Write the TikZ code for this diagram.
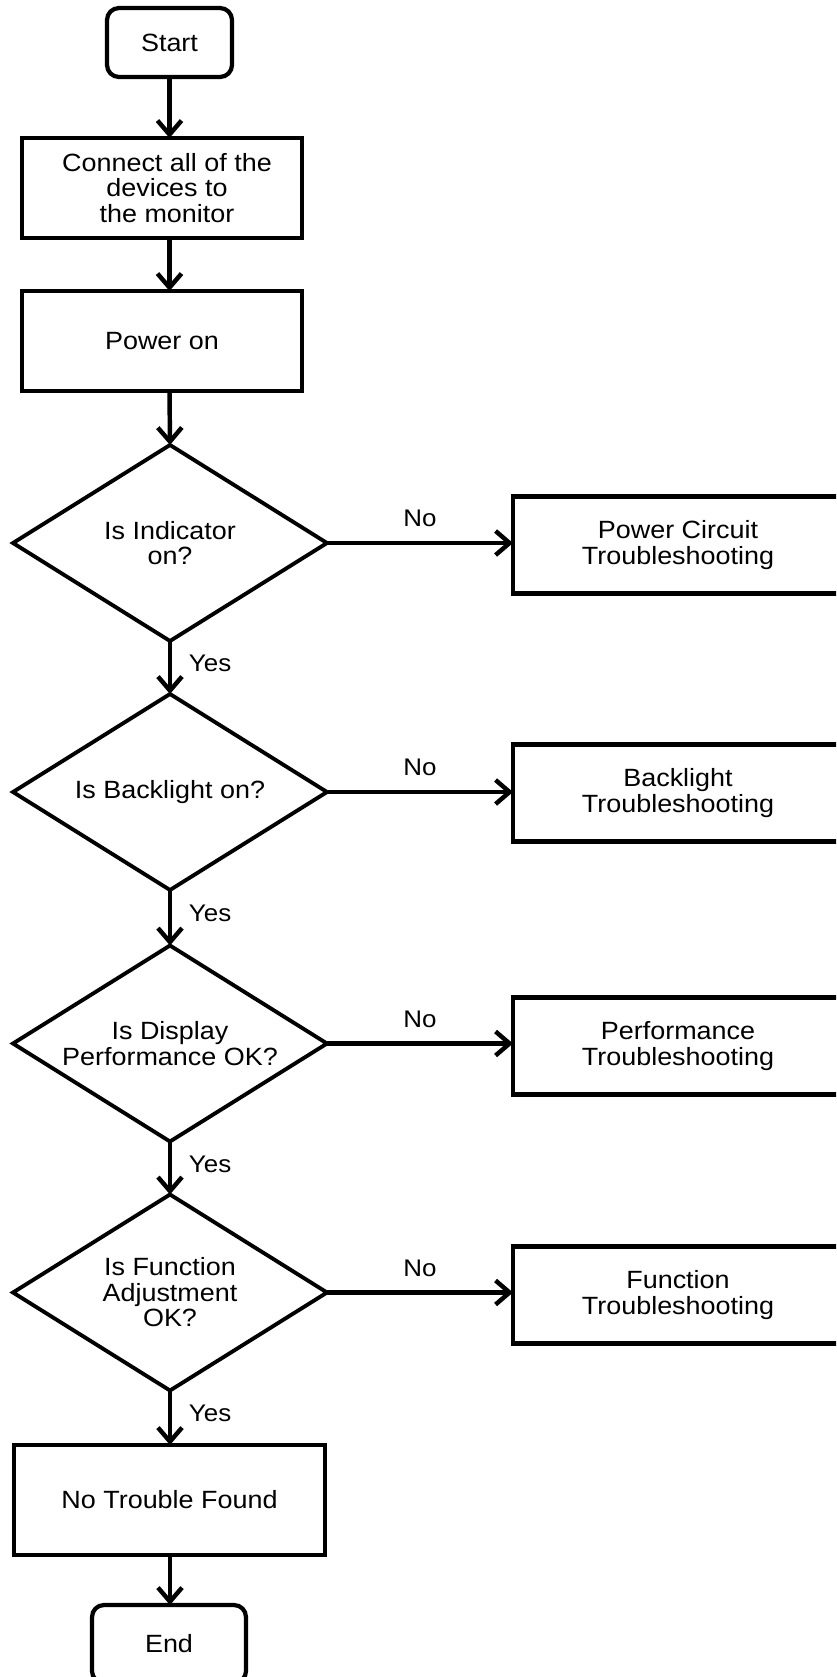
\documentclass[tikz,border=0pt]{standalone}
\usepackage{fontspec}
\setmainfont{Liberation Sans}[FakeStretch=1.08]
\usetikzlibrary{arrows.meta,shapes.geometric}

\begin{document}
\begin{tikzpicture}[x=0.03cm,y=-0.03cm,
  base/.style={draw=black, line width=3.6pt, inner sep=0pt, outer sep=0pt,
    align=center, font=\fontsize{21.3}{21.8}\selectfont},
  terminal/.style={base, rectangle, rounded corners=0.36cm},
  process/.style={base, rectangle},
  sidebox/.style={process, minimum width=9.9cm, minimum height=2.91cm},
  decision/.style={base, diamond, aspect=1.6, line width=3.3pt,
    minimum width=9.42cm, minimum height=5.88cm},
  arr/.style={line width=3.8pt, -{Straight Barb[length=0.42cm,width=0.72cm]}},
  lbl/.style={inner sep=0pt, font=\fontsize{20.5}{21}\selectfont},
  nolbl/.style={lbl, midway, above=0.42cm},
  yeslbl/.style={lbl, midway, anchor=base west, xshift=0.5cm, yshift=-0.12cm},
]
\useasboundingbox (0,0) rectangle (836,1677);
\clip (0,0) rectangle (836,1677);

% main column
\node[terminal, minimum width=3.75cm, minimum height=2.07cm] (start) at (169.5,42.5) {Start};
\node[process, minimum width=8.4cm, minimum height=3cm] (conn) at (162,188)
  {\hspace*{0.3cm}Connect all of the\\\hspace*{0.3cm}devices to\\\hspace*{0.3cm}the monitor};
\node[process, minimum width=8.4cm, minimum height=3cm] (pwr) at (162,341) {Power on};
\node[decision] (d1) at (170,543) {Is Indicator\\on?};
\node[decision] (d2) at (170,792) {Is Backlight on?};
\node[decision] (d3) at (170,1043.5) {Is Display\\Performance OK?};
\node[decision] (d4) at (170,1292.5) {Is Function\\Adjustment\\OK?};
\node[process, minimum width=9.33cm, minimum height=3.3cm] (ntf) at (169.5,1500) {No Trouble Found};
\node[terminal, minimum width=4.62cm, minimum height=2.34cm] (end) at (169,1644) {End};

% troubleshooting branches
\node[sidebox] (pc)   at (678,545)  {Power Circuit\\Troubleshooting};
\node[sidebox] (bl)   at (678,793)  {Backlight\\Troubleshooting};
\node[sidebox] (perf) at (678,1046) {Performance\\Troubleshooting};
\node[sidebox] (func) at (678,1295) {Function\\Troubleshooting};

% vertical flow
\draw[arr] (start.south) -- (start.south |- conn.north);
\draw[arr] (start.south |- conn.south) -- (start.south |- pwr.north);
\draw[arr] (start.south |- pwr.south) -- (d1.north);
\draw[arr] (d1.south) -- node[yeslbl] {Yes} (d2.north);
\draw[arr] (d2.south) -- node[yeslbl] {Yes} (d3.north);
\draw[arr] (d3.south) -- node[yeslbl] {Yes} (d4.north);
\draw[arr] (d4.south) -- node[yeslbl] {Yes} (d4.south |- ntf.north);
\draw[arr] (d4.south |- ntf.south) -- (d4.south |- end.north);

% side branches
\draw[arr] (d1.east) -- node[nolbl] {No} (d1.east -| pc.west);
\draw[arr] (d2.east) -- node[nolbl] {No} (d2.east -| bl.west);
\draw[arr] (d3.east) -- node[nolbl] {No} (d3.east -| perf.west);
\draw[arr] (d4.east) -- node[nolbl] {No} (d4.east -| func.west);
\end{tikzpicture}
\end{document}
